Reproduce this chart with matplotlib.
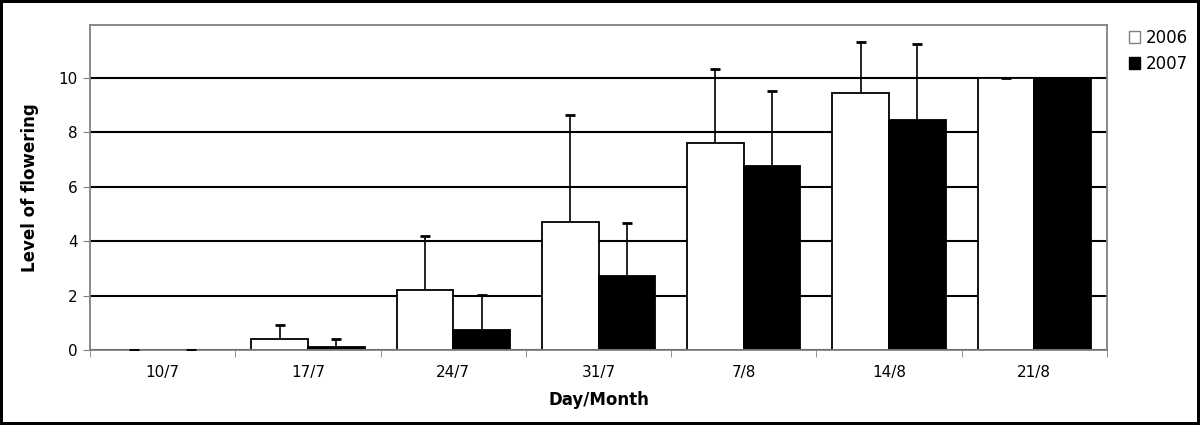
import numpy as np
import matplotlib
matplotlib.use('Agg')
import matplotlib.pyplot as plt
from matplotlib.patches import Patch

font = {'family': 'DejaVu Sans', 'size': 11}
matplotlib.rc('font', **font)

# values
days = ['10/7', '17/7', '24/7', '31/7', '7/8', '14/8', '21/8']
mean_2006 = [0, 0.4, 2.2, 4.72, 7.6, 9.45, 10]
mean_2007 = [0, 0.11, 0.74, 2.73, 6.75, 8.45, 10]
err_2006 = [0, 0.52, 2.0, 3.92, 2.75, 1.88, 0]
err_2007 = [0, 0.31, 1.3, 1.93, 2.77, 2.82, 0]

fig = plt.figure(figsize=(12, 4.25), dpi=100)
fig.patch.set_edgecolor('black')
fig.patch.set_linewidth(3)
ax = fig.add_axes([0.075, 0.1765, 0.8475, 0.7645])

x = np.arange(len(days))
w = 0.39
grey = '#808080'

ax.set_axisbelow(True)
ax.yaxis.grid(True, color='black', linewidth=1.5)

ax.bar(x - w/2, mean_2006, w, color='white', edgecolor='black', linewidth=1.3, label='2006', zorder=2)
ax.bar(x + w/2, mean_2007, w, color='black', edgecolor='black', linewidth=1.3, label='2007', zorder=2)

# upper error bars only (stem + cap at the top)
for xs, m, e in [(x - w/2, mean_2006, err_2006), (x + w/2, mean_2007, err_2007)]:
    top = np.array(m) + np.array(e)
    ax.vlines(xs, m, top, color='black', linewidth=1.2, zorder=3)
    ax.plot(xs, top, linestyle='none', marker='_', markersize=7, markeredgewidth=2,
            color='black', zorder=3)

ax.set_xlim(-0.5, len(days) - 0.5)
ax.set_ylim(0, 11.95)
ax.set_yticks([0, 2, 4, 6, 8, 10])

ax.set_xticks(x)
ax.set_xticklabels(days)
ax.tick_params(axis='x', length=0, pad=11)
ax.set_xticks(np.arange(-0.5, len(days)), minor=True)
ax.tick_params(axis='x', which='minor', length=5, color=grey, direction='out')
ax.tick_params(axis='y', length=5, color=grey, pad=4)

for s in ax.spines.values():
    s.set_color(grey)
    s.set_linewidth(1.3)

ax.set_xlabel('Day/Month', fontweight='bold', fontsize=12, labelpad=8)
ax.set_ylabel('Level of flowering', fontweight='bold', fontsize=12, labelpad=14)

handles = [Patch(facecolor='white', edgecolor=grey, label='2006'),
           Patch(facecolor='black', edgecolor='black', label='2007')]
fig.legend(handles=handles, loc='upper left', bbox_to_anchor=(0.928, 0.968),
           frameon=False, handlelength=0.7, handleheight=0.7, handletextpad=0.3,
           labelspacing=0.5, fontsize=12)

plt.savefig('out.png', dpi=100)
plt.close()
